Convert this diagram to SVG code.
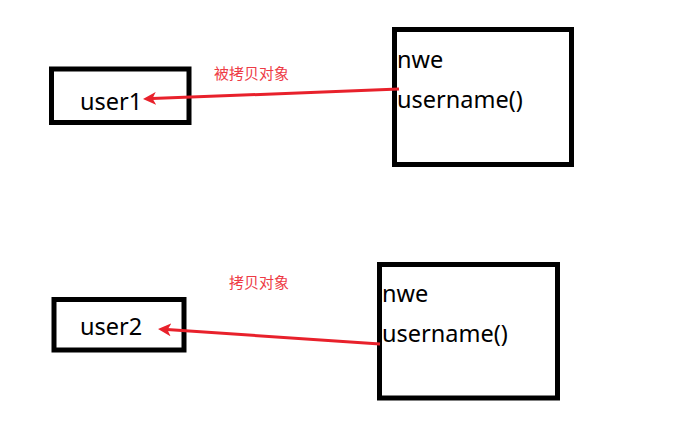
<svg xmlns="http://www.w3.org/2000/svg" width="683" height="438" viewBox="0 0 683 438">
<style>
.box{fill:none;stroke:#000;stroke-width:5}
.t{font-family:"Noto Sans","Noto Sans CJK SC",sans-serif;font-size:23.5px;fill:#000}
.lbl{font-family:"Noto Sans CJK SC","Noto Sans",sans-serif;font-size:15px;fill:#ee3b45}
.arr{fill:none;stroke:#e8212b;stroke-width:3}
</style>
<defs>
<marker id="ah" viewBox="0 0 13 13" refX="4" refY="6.5" markerWidth="13" markerHeight="13" markerUnits="userSpaceOnUse" orient="auto">
<path d="M0,0 L13,6.5 L0,13 L3.5,6.5 z" fill="#e8212b"/>
</marker>
</defs>
<rect width="683" height="438" fill="#fff"/>
<g id="user1">
<rect class="box" x="51.5" y="69" width="137.5" height="53.5"/>
<text class="t" x="80" y="110">user1</text>
</g>
<g id="obj1">
<rect class="box" x="394.5" y="29.5" width="177" height="135"/>
<text class="t" x="397" y="68">nwe</text>
<text class="t" x="397" y="108">username()</text>
</g>
<g id="user2">
<rect class="box" x="54" y="299.5" width="130" height="50.5"/>
<text class="t" x="80" y="335">user2</text>
</g>
<g id="obj2">
<rect class="box" x="379.5" y="264.5" width="178" height="133.5"/>
<text class="t" x="382" y="302">nwe</text>
<text class="t" x="382" y="342">username()</text>
</g>
<g id="connectors">
<path class="arr" d="M399,89 L152,98.6" marker-end="url(#ah)"/>
<text class="lbl" x="214" y="79">被拷贝对象</text>
<path class="arr" d="M380,344 L167,329.6" marker-end="url(#ah)"/>
<text class="lbl" x="229" y="288">拷贝对象</text>
</g>
</svg>
